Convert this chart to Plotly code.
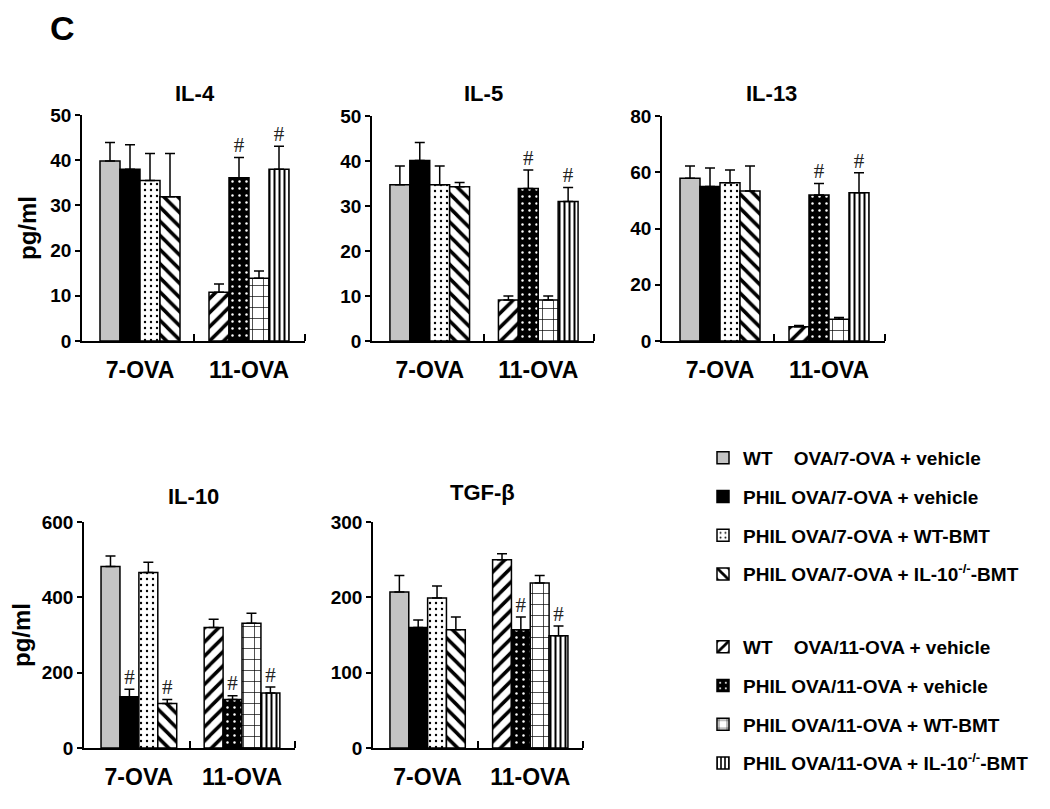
import plotly.graph_objects as go

# page body has an 8px margin: figure is drawn 8px in from the window edge
OFF = 8
W, H = 1050 - 2 * OFF, 809 - 2 * OFF

groups = ["7-OVA", "11-OVA"]
series_names = [
    "WT\u00a0\u00a0\u00a0\u00a0OVA/7-OVA + vehicle",
    "PHIL OVA/7-OVA + vehicle",
    "PHIL OVA/7-OVA + WT-BMT",
    "PHIL OVA/7-OVA + IL-10<sup>-/-</sup>-BMT",
    "WT\u00a0\u00a0\u00a0\u00a0OVA/11-OVA + vehicle",
    "PHIL OVA/11-OVA + vehicle",
    "PHIL OVA/11-OVA + WT-BMT",
    "PHIL OVA/11-OVA + IL-10<sup>-/-</sup>-BMT",
]
series_group = [0, 0, 0, 0, 1, 1, 1, 1]

panel_titles = ["IL-4", "IL-5", "IL-13", "IL-10", "TGF-β"]

il4_mean = [39.8, 38.0, 35.5, 31.9, 10.8, 36.1, 13.9, 38.0]
il4_sem = [4.1, 5.4, 6.0, 9.6, 1.8, 4.5, 1.6, 5.1]
il4_sig = [0, 0, 0, 0, 0, 1, 0, 1]

il5_mean = [34.7, 40.1, 34.7, 34.3, 9.1, 33.9, 9.1, 31.0]
il5_sem = [4.2, 4.0, 4.2, 0.9, 0.9, 4.1, 0.9, 3.1]
il5_sig = [0, 0, 0, 0, 0, 1, 0, 1]

il13_mean = [57.9, 54.9, 56.3, 53.3, 5.1, 51.9, 7.7, 52.7]
il13_sem = [4.3, 6.6, 4.5, 8.9, 0.4, 4.1, 0.7, 7.1]
il13_sig = [0, 0, 0, 0, 0, 1, 0, 1]

il10_mean = [482, 136, 466, 118, 320, 129, 331, 146]
il10_sem = [28, 20, 27, 11, 22, 10, 27, 16]
il10_sig = [0, 1, 0, 1, 0, 1, 0, 1]

tgf_mean = [207, 160, 199, 157, 250, 157, 219, 149]
tgf_sem = [22, 10, 16, 17, 8, 17, 10, 13]
tgf_sig = [0, 0, 0, 0, 0, 1, 0, 1]

y_ranges = [[0, 50], [0, 50], [0, 80], [0, 600], [0, 300]]
y_dticks = [10, 10, 20, 200, 100]

panel_means = [il4_mean, il5_mean, il13_mean, il10_mean, tgf_mean]
panel_sems = [il4_sem, il5_sem, il13_sem, il10_sem, tgf_sem]
panel_sigs = [il4_sig, il5_sig, il13_sig, il10_sig, tgf_sig]

# ---- styling (layout only) ----
FONT = "Liberation Sans, Arial, Helvetica, sans-serif"
patterns = [
    dict(color="#c4c4c4", pattern=dict(shape="")),
    dict(color="#000000", pattern=dict(shape="")),
    dict(color="#ffffff", pattern=dict(shape=".", fgcolor="#000", bgcolor="#fff", size=6, solidity=0.12, fillmode="replace")),
    dict(color="#ffffff", pattern=dict(shape="\\", fgcolor="#000", bgcolor="#fff", size=10, solidity=0.35, fillmode="replace")),
    dict(color="#ffffff", pattern=dict(shape="/", fgcolor="#000", bgcolor="#fff", size=10, solidity=0.35, fillmode="replace")),
    dict(color="#000000", pattern=dict(shape=".", fgcolor="#fff", bgcolor="#000", size=7, solidity=0.1, fillmode="replace")),
    dict(color="#ffffff", pattern=dict(shape="+", fgcolor="#000", bgcolor="#fff", size=11, solidity=0.12, fillmode="replace")),
    dict(color="#ffffff", pattern=dict(shape="|", fgcolor="#000", bgcolor="#fff", size=5, solidity=0.4, fillmode="replace")),
]


def px_x(x):
    return (x - OFF) / W


def px_y(y):
    return 1 - (y - OFF) / H


# window-pixel boxes of each panel: x0, x1, ytop, ybottom
boxes = [
    (82, 305, 115, 341),
    (372, 594, 116, 341),
    (662, 885, 116, 341),
    (84, 295, 522, 748),
    (373, 583, 522, 748),
]
title_pos = [(195, 93), (483, 93), (771, 93), (193, 497), (482, 492)]

group_centers = [2.9, 8.35]
bar_offsets = [-1.5, -0.5, 0.5, 1.5]
x_range = [0, 11.15]
divider = 5.6

fig = go.Figure()
layout = dict()
annotations = []

for p in range(5):
    sfx = "" if p == 0 else str(p + 1)
    xa, ya = "x" + sfx, "y" + sfx
    xs = [group_centers[series_group[i]] + bar_offsets[i % 4] for i in range(8)]
    for i in range(8):
        st = patterns[i]
        fig.add_trace(go.Bar(
            x=[xs[i]], y=[panel_means[p][i]], width=1,
            name=series_names[i],
            marker=dict(color=st["color"], pattern=st["pattern"], line=dict(color="#000", width=1.5)),
            error_y=dict(type="data", symmetric=False, array=[panel_sems[p][i]], arrayminus=[0],
                         color="#000", thickness=1.5, width=5),
            xaxis=xa, yaxis=ya,
            showlegend=(p == 0),
            legend="legend" if i < 4 else "legend2",
            legendgroup="s%d" % i,
            hoverinfo="skip",
        ))
    sx = [xs[i] for i in range(8) if panel_sigs[p][i]]
    sy = [panel_means[p][i] + panel_sems[p][i] for i in range(8) if panel_sigs[p][i]]
    fig.add_trace(go.Scatter(
        x=sx, y=sy, mode="text", text=["#"] * len(sx), textposition="top center",
        textfont=dict(family="Liberation Serif, DejaVu Serif, serif", size=21, color="#222"),
        xaxis=xa, yaxis=ya, showlegend=False, hoverinfo="skip",
    ))

    x0, x1, yt, yb = boxes[p]
    layout["xaxis" + sfx] = dict(
        domain=[px_x(x0), px_x(x1)], anchor=ya, range=x_range,
        showline=True, linecolor="#000", linewidth=1.5,
        tickvals=group_centers, ticktext=groups, ticks="",
        tickfont=dict(size=23, family=FONT, color="#000", weight="bold"),
        ticklabelstandoff=8,
        minor=dict(tickvals=[divider, x_range[1]], ticks="inside", ticklen=7, tickcolor="#000", tickwidth=1.5),
        showgrid=False, zeroline=False, fixedrange=True, automargin=False,
    )
    ya_dict = dict(
        domain=[px_y(yb), px_y(yt)], anchor=xa, range=y_ranges[p], dtick=y_dticks[p],
        showline=True, linecolor="#000", linewidth=1.5,
        ticks="outside", ticklen=5, tickcolor="#000", tickwidth=1.5,
        tickfont=dict(size=19, family=FONT, color="#000", weight="bold"),
        showgrid=False, zeroline=False, fixedrange=True, automargin=False,
    )
    if p in (0, 3):
        ya_dict["title"] = dict(text="pg/ml", font=dict(size=24, family=FONT, color="#000", weight="bold"), standoff=7)
    layout["yaxis" + sfx] = ya_dict

    tx, ty = title_pos[p]
    annotations.append(dict(
        text=panel_titles[p], x=px_x(tx), y=px_y(ty), xref="paper", yref="paper",
        xanchor="center", yanchor="middle", showarrow=False,
        font=dict(size=22, family=FONT, color="#000", weight="bold"),
    ))

annotations.append(dict(
    text="C", x=px_x(62), y=1, xref="paper", yref="paper",
    xanchor="center", yanchor="top", showarrow=False, borderpad=0,
    font=dict(size=34, family=FONT, color="#000", weight="bold"),
))

legend_font = dict(size=19, family=FONT, color="#000", weight="bold")
fig.update_layout(
    width=W, height=H,
    margin=dict(l=0, r=0, t=0, b=0, pad=0, autoexpand=False),
    paper_bgcolor="#fff", plot_bgcolor="#fff",
    barmode="overlay",
    annotations=annotations,
    legend=dict(x=px_x(703), y=px_y(439), xanchor="left", yanchor="top",
                font=legend_font, tracegroupgap=11, bgcolor="rgba(0,0,0,0)"),
    legend2=dict(x=px_x(703), y=px_y(628), xanchor="left", yanchor="top",
                 font=legend_font, tracegroupgap=11, bgcolor="rgba(0,0,0,0)"),
    **layout,
)

fig.write_html("out.html")
